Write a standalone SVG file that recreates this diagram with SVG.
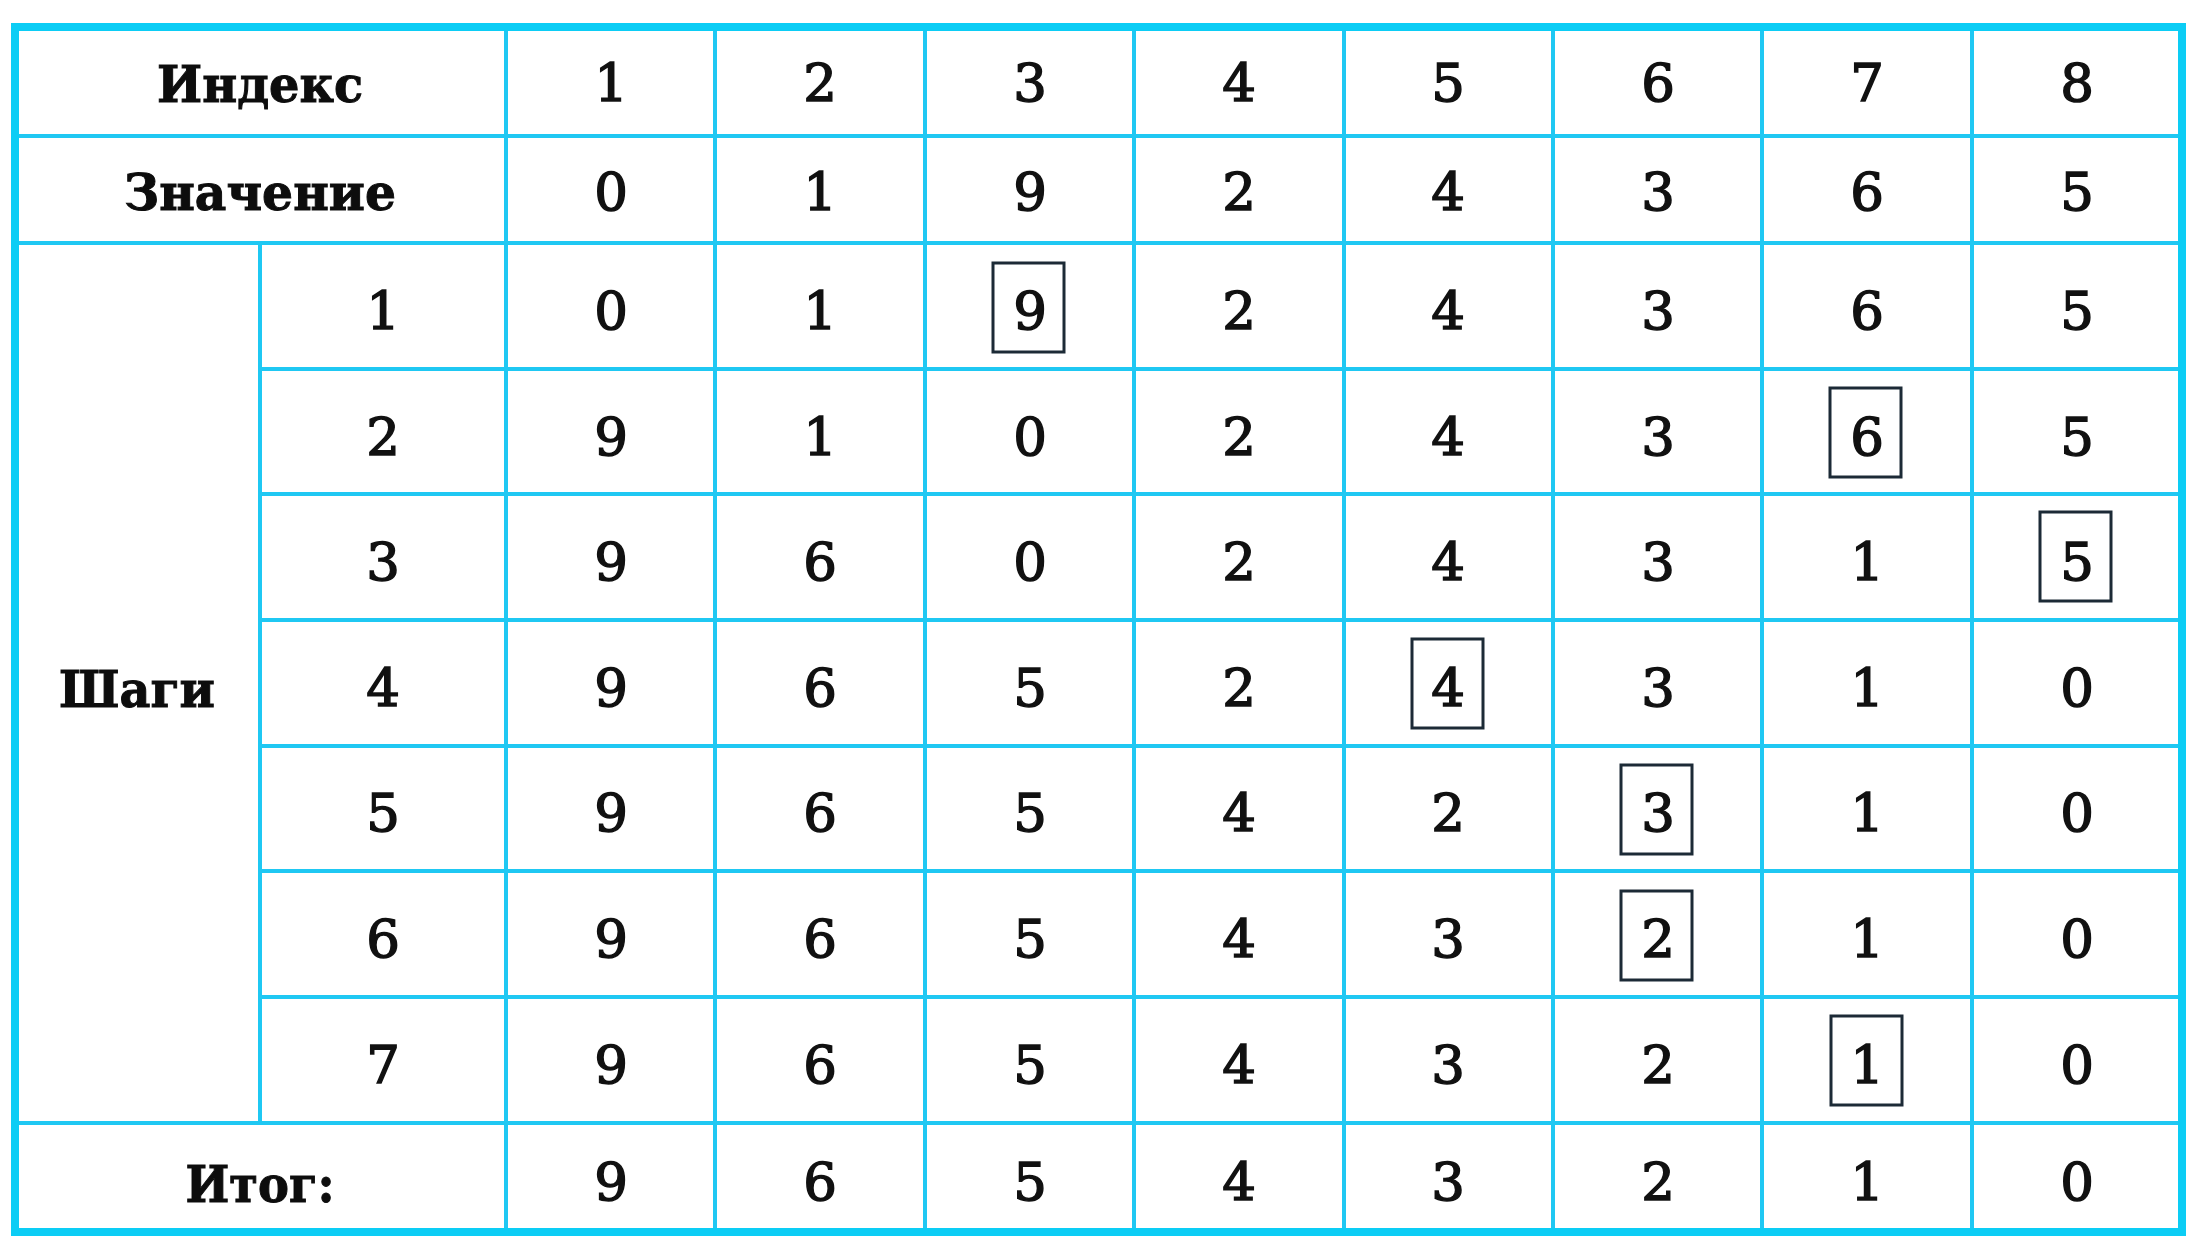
<svg xmlns="http://www.w3.org/2000/svg" width="2200" height="1254" viewBox="0 0 2200 1254">
<style>
.bg{fill:#ffffff}
.ln{stroke:#1fc8f3;stroke-width:4;fill:none;stroke-linecap:square}
.outer{stroke:#0ccdf5;stroke-width:8;fill:none}
.lbl{font-family:"DejaVu Serif","Liberation Serif",serif;font-weight:bold;font-size:50px;fill:#0d0d0d;text-anchor:middle;stroke:#0d0d0d;stroke-width:1}
.num{font-family:"DejaVu Serif","Liberation Serif",serif;font-size:53px;fill:#111;text-anchor:middle;stroke:#111;stroke-width:1.5}
.box{fill:none;stroke:#1c2a36;stroke-width:3}
</style>
<rect class="bg" x="0" y="0" width="2200" height="1254"/>
<g id="grid">
<line class="ln" x1="15" y1="136" x2="2182" y2="136"/>
<line class="ln" x1="15" y1="243" x2="2182" y2="243"/>
<line class="ln" x1="260" y1="369" x2="2182" y2="369"/>
<line class="ln" x1="260" y1="494" x2="2182" y2="494"/>
<line class="ln" x1="260" y1="620" x2="2182" y2="620"/>
<line class="ln" x1="260" y1="746" x2="2182" y2="746"/>
<line class="ln" x1="260" y1="871" x2="2182" y2="871"/>
<line class="ln" x1="260" y1="997" x2="2182" y2="997"/>
<line class="ln" x1="15" y1="1123" x2="2182" y2="1123"/>
<line class="ln" x1="260" y1="243" x2="260" y2="1123"/>
<line class="ln" x1="506" y1="27" x2="506" y2="1232"/>
<line class="ln" x1="715" y1="27" x2="715" y2="1232"/>
<line class="ln" x1="925" y1="27" x2="925" y2="1232"/>
<line class="ln" x1="1134" y1="27" x2="1134" y2="1232"/>
<line class="ln" x1="1344" y1="27" x2="1344" y2="1232"/>
<line class="ln" x1="1553" y1="27" x2="1553" y2="1232"/>
<line class="ln" x1="1762" y1="27" x2="1762" y2="1232"/>
<line class="ln" x1="1972" y1="27" x2="1972" y2="1232"/>
<rect class="outer" x="15" y="27" width="2167" height="1205"/>
</g>
<g id="row-index">
<text class="lbl" x="260" y="102" textLength="206" lengthAdjust="spacingAndGlyphs">Индекс</text>
<text class="num" x="611" y="101">1</text>
<text class="num" x="820" y="101">2</text>
<text class="num" x="1030" y="101">3</text>
<text class="num" x="1239" y="101">4</text>
<text class="num" x="1448" y="101">5</text>
<text class="num" x="1658" y="101">6</text>
<text class="num" x="1867" y="101">7</text>
<text class="num" x="2077" y="101">8</text>
</g>
<g id="row-value">
<text class="lbl" x="260" y="210" textLength="272" lengthAdjust="spacingAndGlyphs">Значение</text>
<text class="num" x="611" y="210">0</text>
<text class="num" x="820" y="210">1</text>
<text class="num" x="1030" y="210">9</text>
<text class="num" x="1239" y="210">2</text>
<text class="num" x="1448" y="210">4</text>
<text class="num" x="1658" y="210">3</text>
<text class="num" x="1867" y="210">6</text>
<text class="num" x="2077" y="210">5</text>
</g>
<g id="steps-label">
<text class="lbl" x="137" y="707" textLength="156" lengthAdjust="spacingAndGlyphs">Шаги</text>
</g>
<g id="step-1">
<text class="num" x="383" y="329">1</text>
<text class="num" x="611" y="329">0</text>
<text class="num" x="820" y="329">1</text>
<text class="num" x="1030" y="329">9</text>
<text class="num" x="1239" y="329">2</text>
<text class="num" x="1448" y="329">4</text>
<text class="num" x="1658" y="329">3</text>
<text class="num" x="1867" y="329">6</text>
<text class="num" x="2077" y="329">5</text>
<rect class="box" x="993" y="263" width="71" height="89"/>
</g>
<g id="step-2">
<text class="num" x="383" y="455">2</text>
<text class="num" x="611" y="455">9</text>
<text class="num" x="820" y="455">1</text>
<text class="num" x="1030" y="455">0</text>
<text class="num" x="1239" y="455">2</text>
<text class="num" x="1448" y="455">4</text>
<text class="num" x="1658" y="455">3</text>
<text class="num" x="1867" y="455">6</text>
<text class="num" x="2077" y="455">5</text>
<rect class="box" x="1830" y="388" width="71" height="89"/>
</g>
<g id="step-3">
<text class="num" x="383" y="580">3</text>
<text class="num" x="611" y="580">9</text>
<text class="num" x="820" y="580">6</text>
<text class="num" x="1030" y="580">0</text>
<text class="num" x="1239" y="580">2</text>
<text class="num" x="1448" y="580">4</text>
<text class="num" x="1658" y="580">3</text>
<text class="num" x="1867" y="580">1</text>
<text class="num" x="2077" y="580">5</text>
<rect class="box" x="2040" y="512" width="71" height="89"/>
</g>
<g id="step-4">
<text class="num" x="383" y="706">4</text>
<text class="num" x="611" y="706">9</text>
<text class="num" x="820" y="706">6</text>
<text class="num" x="1030" y="706">5</text>
<text class="num" x="1239" y="706">2</text>
<text class="num" x="1448" y="706">4</text>
<text class="num" x="1658" y="706">3</text>
<text class="num" x="1867" y="706">1</text>
<text class="num" x="2077" y="706">0</text>
<rect class="box" x="1412" y="639" width="71" height="89"/>
</g>
<g id="step-5">
<text class="num" x="383" y="831">5</text>
<text class="num" x="611" y="831">9</text>
<text class="num" x="820" y="831">6</text>
<text class="num" x="1030" y="831">5</text>
<text class="num" x="1239" y="831">4</text>
<text class="num" x="1448" y="831">2</text>
<text class="num" x="1658" y="831">3</text>
<text class="num" x="1867" y="831">1</text>
<text class="num" x="2077" y="831">0</text>
<rect class="box" x="1621" y="765" width="71" height="89"/>
</g>
<g id="step-6">
<text class="num" x="383" y="957">6</text>
<text class="num" x="611" y="957">9</text>
<text class="num" x="820" y="957">6</text>
<text class="num" x="1030" y="957">5</text>
<text class="num" x="1239" y="957">4</text>
<text class="num" x="1448" y="957">3</text>
<text class="num" x="1658" y="957">2</text>
<text class="num" x="1867" y="957">1</text>
<text class="num" x="2077" y="957">0</text>
<rect class="box" x="1621" y="891" width="71" height="89"/>
</g>
<g id="step-7">
<text class="num" x="383" y="1083">7</text>
<text class="num" x="611" y="1083">9</text>
<text class="num" x="820" y="1083">6</text>
<text class="num" x="1030" y="1083">5</text>
<text class="num" x="1239" y="1083">4</text>
<text class="num" x="1448" y="1083">3</text>
<text class="num" x="1658" y="1083">2</text>
<text class="num" x="1867" y="1083">1</text>
<text class="num" x="2077" y="1083">0</text>
<rect class="box" x="1831" y="1016" width="71" height="89"/>
</g>
<g id="row-total">
<text class="lbl" x="260" y="1202" textLength="149" lengthAdjust="spacingAndGlyphs">Итог:</text>
<text class="num" x="611" y="1200">9</text>
<text class="num" x="820" y="1200">6</text>
<text class="num" x="1030" y="1200">5</text>
<text class="num" x="1239" y="1200">4</text>
<text class="num" x="1448" y="1200">3</text>
<text class="num" x="1658" y="1200">2</text>
<text class="num" x="1867" y="1200">1</text>
<text class="num" x="2077" y="1200">0</text>
</g>
</svg>
